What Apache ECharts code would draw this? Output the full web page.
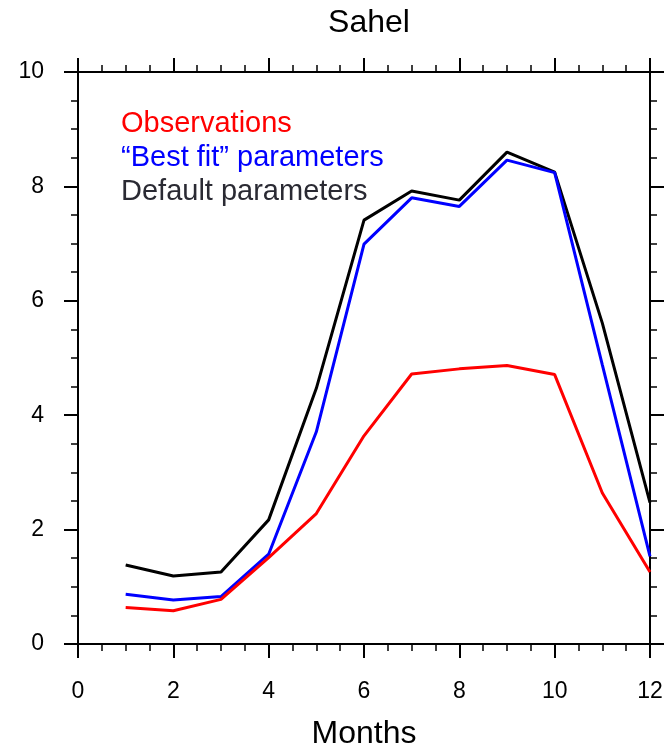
<!DOCTYPE html>
<html>
<head>
<meta charset="utf-8">
<script src="https://cdn.jsdelivr.net/npm/echarts@6/dist/echarts.min.js"></script>
<style>
html,body{margin:0;padding:0;background:#fff;}
#chart{width:667px;height:748px;}
</style>
</head>
<body>
<div id="chart"></div>
<script>
const months = [1, 2, 3, 4, 5, 6, 7, 8, 9, 10, 11, 12];
const observations = [0.64, 0.58, 0.78, 1.51, 2.28, 3.64, 4.72, 4.81, 4.87, 4.71, 2.64, 1.26];
const bestFit = [0.87, 0.77, 0.83, 1.57, 3.71, 6.99, 7.80, 7.65, 8.46, 8.24, 4.88, 1.53];
const defaults = [1.38, 1.19, 1.26, 2.17, 4.47, 7.41, 7.92, 7.76, 8.60, 8.25, 5.61, 2.47];
const seriesNames = ['Observations', '\u201CBest fit\u201D parameters', 'Default parameters'];
const seriesColors = ['#ff0000', '#0000ff', '#000000'];
const legendColors = ['#ff0000', '#0000ff', '#2a2a33'];
const xTitle = 'Months';
const chartTitle = 'Sahel';

const FONT = '"Liberation Sans", Arial, Helvetica, sans-serif';
const chart = echarts.init(document.getElementById('chart'));

function pairs(vals) { return months.map((m, i) => [m, vals[i]]); }

const axisLine = { show: true, onZero: false, lineStyle: { color: '#000', width: 2 } };
const axisTick = { show: true, inside: false, length: 14, lineStyle: { color: '#000', width: 2 } };
const minorTick = { show: true, splitNumber: 4, length: 7, lineStyle: { color: '#000', width: 1.5 } };

const option = {
  backgroundColor: '#fff',
  animation: false,
  title: {
    text: chartTitle,
    left: 364,
    textAlign: 'center',
    top: 2,
    textStyle: { fontFamily: FONT, fontSize: 32, fontWeight: 'normal', color: '#000' }
  },
  legend: {
    show: true,
    orient: 'vertical',
    left: 111,
    top: 102,
    icon: 'none',
    itemWidth: 0,
    itemGap: 0,
    selectedMode: false,
    textStyle: { fontFamily: FONT, fontSize: 29, lineHeight: 34 },
    data: seriesNames.map((n, i) => ({ name: n, textStyle: { color: legendColors[i] } }))
  },
  grid: { left: 78, right: 17, top: 72, bottom: 104, containLabel: false, outerBoundsMode: 'none' },
  xAxis: [{
    type: 'value', position: 'bottom', min: 0, max: 12, interval: 2,
    name: xTitle, nameLocation: 'middle', nameGap: 74,
    nameTextStyle: { fontFamily: FONT, fontSize: 32, color: '#000' },
    axisLine, axisTick, minorTick,
    axisLabel: { fontFamily: FONT, fontSize: 23, color: '#000', margin: 36 },
    splitLine: { show: false }
  }, {
    type: 'value', position: 'top', min: 0, max: 12, interval: 2,
    axisLine, axisTick, minorTick,
    axisLabel: { show: false },
    splitLine: { show: false }
  }],
  yAxis: [{
    type: 'value', position: 'left', min: 0, max: 10, interval: 2,
    axisLine, axisTick, minorTick,
    axisLabel: { fontFamily: FONT, fontSize: 23, color: '#000', margin: 34 },
    splitLine: { show: false }
  }, {
    type: 'value', position: 'right', min: 0, max: 10, interval: 2,
    axisLine, axisTick, minorTick,
    axisLabel: { show: false },
    splitLine: { show: false }
  }],
  series: [observations, bestFit, defaults].map((vals, i) => ({
    name: seriesNames[i],
    type: 'line',
    data: pairs(vals),
    showSymbol: false,
    symbol: 'none',
    lineStyle: { color: seriesColors[i], width: 3 },
    itemStyle: { color: seriesColors[i] },
    z: 3 - i
  }))
};
chart.setOption(option);
</script>
</body>
</html>
